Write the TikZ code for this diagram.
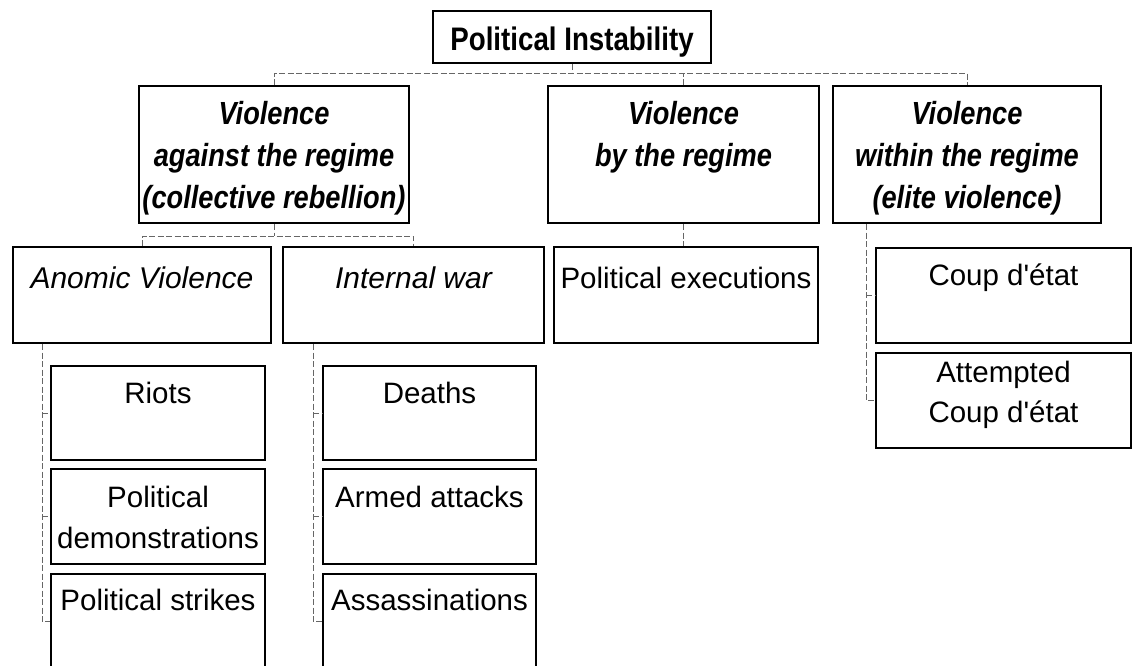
\documentclass[tikz,border=0pt]{standalone}
\usepackage{fontspec}
\setmainfont{Liberation Sans}[Ligatures=TeXOff]
\newfontfamily\narrowsans{Liberation Sans}[FakeStretch=0.85, Ligatures=TeXOff]
\begin{document}
\begin{tikzpicture}[x=1pt, y=-1pt,
  box/.style={draw=black, line width=2pt, rectangle, inner sep=0pt, anchor=north west},
  wh/.style 2 args={minimum width=#1pt, minimum height=#2pt},
  link/.style={draw=black!60, line width=0.9pt, dash pattern=on 6pt off 2.5pt},
  titletxt/.style={anchor=base, inner sep=0pt, font=\narrowsans\bfseries\fontsize{32.6pt}{36pt}\selectfont},
  headtxt/.style={anchor=base, inner sep=0pt, font=\narrowsans\bfseries\itshape\fontsize{32pt}{36pt}\selectfont},
  subtxt/.style={anchor=base, inner sep=0pt, font=\itshape\fontsize{30pt}{34pt}\selectfont},
  leaftxt/.style={anchor=base, inner sep=0pt, font=\fontsize{29.5pt}{34pt}\selectfont}]
\useasboundingbox (0,0) rectangle (1135,665);

% ---- boxes ----
\node[box, wh={278}{52}]  (top)       at (432,10)  {};
\node[box, wh={270}{137}] (vag)       at (138,85)  {};
\node[box, wh={271}{137}] (vby)       at (547,85)  {};
\node[box, wh={268}{137}] (vwi)       at (832,85)  {};
\node[box, wh={258}{96}]  (anomic)    at (12,246)  {};
\node[box, wh={261}{96}]  (internal)  at (282,246) {};
\node[box, wh={264}{96}]  (execs)     at (553,246) {};
\node[box, wh={255}{95}]  (coup)      at (875,247) {};
\node[box, wh={255}{95}]  (attempted) at (875,352) {};
\node[box, wh={214}{94}]  (riots)     at (50,365)  {};
\node[box, wh={214}{95}]  (demos)     at (50,468)  {};
\node[box, wh={214}{95}]  (strikes)   at (50,573)  {};
\node[box, wh={213}{94}]  (deaths)    at (322,365) {};
\node[box, wh={213}{95}]  (armed)     at (322,468) {};
\node[box, wh={213}{95}]  (assass)    at (322,573) {};

% ---- texts ----
\node[titletxt] (topT) at (top.north |- 0,50) {Political Instability};

\node[headtxt] (vagA) at (vag.north |- 0,124) {Violence};
\node[headtxt] (vagB) at (vag.north |- 0,166) {against the regime};
\node[headtxt] (vagC) at (vag.north |- 0,208) {(collective rebellion)};

\node[headtxt] (vbyA) at (vby.north |- 0,124) {Violence};
\node[headtxt] (vbyB) at (vby.north |- 0,166) {by the regime};

\node[headtxt] (vwiA) at (vwi.north |- 0,124) {Violence};
\node[headtxt] (vwiB) at (vwi.north |- 0,166) {within the regime};
\node[headtxt] (vwiC) at (vwi.north |- 0,208) {(elite violence)};

\node[subtxt]  (anomicT)   at (anomic.north |- 0,288)   {Anomic Violence};
\node[subtxt]  (internalT) at (internal.north |- 0,288) {Internal war};
\node[leaftxt] (execsT)    at (execs.north |- 0,288)    {Political executions};
\node[leaftxt] (coupT)     at (coup.north |- 0,285)     {Coup d'état};
\node[leaftxt] (attA)      at (attempted.north |- 0,382) {Attempted};
\node[leaftxt] (attB)      at (attempted.north |- 0,422) {Coup d'état};

\node[leaftxt] (riotsT)  at (riots.north |- 0,403)   {Riots};
\node[leaftxt] (demosA)  at (demos.north |- 0,507)   {Political};
\node[leaftxt] (demosB)  at (demos.north |- 0,548)   {demonstrations};
\node[leaftxt] (strikesT) at (strikes.north |- 0,610) {Political strikes};
\node[leaftxt] (deathsT) at (deaths.north |- 0,403)  {Deaths};
\node[leaftxt] (armedT)  at (armed.north |- 0,507)   {Armed attacks};
\node[leaftxt] (assassT) at (assass.north |- 0,610)  {Assassinations};

% ---- connectors ----
\coordinate (bus1) at (0,73);
\draw[link] (top.south) -- (top.south |- bus1);
\draw[link] (vag.north) -- (vag.north |- bus1) -- (vwi.north |- bus1) -- (vwi.north);
\draw[link] (vby.north) -- (vby.north |- bus1);

\coordinate (bus2) at (0,236);
\draw[link] (vag.south) -- (vag.south |- bus2);
\draw[link] (anomic.north) -- (anomic.north |- bus2) -- (internal.north |- bus2) -- (internal.north);

\draw[link] (vby.south) -- (vby.south |- execs.north);

\coordinate (rspine) at (866,0);
\draw[link] (vwi.south -| rspine) -- (attempted.west -| rspine) -- (attempted.west);
\draw[link] (coup.west -| rspine) -- (coup.west);

\coordinate (lspineA) at (42,0);
\draw[link] (anomic.south -| lspineA) -- (strikes.west -| lspineA) -- (strikes.west);
\draw[link] (riots.west -| lspineA) -- (riots.west);
\draw[link] (demos.west -| lspineA) -- (demos.west);

\coordinate (lspineB) at (313,0);
\draw[link] (internal.south -| lspineB) -- (assass.west -| lspineB) -- (assass.west);
\draw[link] (deaths.west -| lspineB) -- (deaths.west);
\draw[link] (armed.west -| lspineB) -- (armed.west);
\end{tikzpicture}
\end{document}
